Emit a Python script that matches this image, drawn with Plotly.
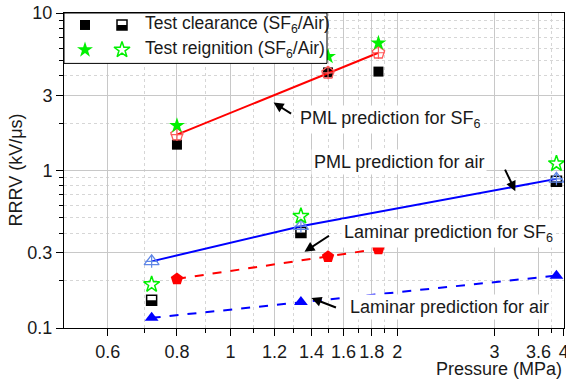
import numpy as np
import plotly.graph_objects as go

# ---------------- data ----------------
SF6_P = [0.8, 1.5, 1.85]
SF6_CLEAR = [1.46, 4.2, 4.25]
SF6_REIG = [1.93, 5.3, 6.45]
SF6_PML = [1.69, 4.17, 5.6]
SF6_LAM = [0.205, 0.283, 0.318]

AIR_P = [0.72, 1.34, 3.88]
AIR_CLEAR = [0.150, 0.404, 0.855]
AIR_REIG = [0.189, 0.513, 1.107]
AIR_PML = [0.265, 0.443, 0.885]
AIR_LAM = [0.116, 0.146, 0.215]

X_TICKS = [0.6, 0.8, 1, 1.2, 1.4, 1.6, 1.8, 2, 3, 3.6, 4]
X_TICKTEXT = ["0.6", "0.8", "1", "1.2", "1.4", "1.6", "1.8", "2", "3", "3.6", "4"]
X_MINOR = [0.7, 0.9, 1.1, 1.3, 1.5, 1.7, 1.9, 3.8]
Y_TICKS = [0.1, 0.3, 1, 3, 10]
Y_TICKTEXT = ["0.1", "0.3", "1", "3", "10"]
Y_MINOR = [0.2, 0.4, 0.5, 0.6, 0.7, 0.8, 0.9, 2, 4, 5, 6, 7, 8, 9]

FONT = "Liberation Sans, Arial, sans-serif"
RED = "#ff0000"
BLUE = "#0000ff"
LRED = "#ff5a5a"
LBLUE = "#5f86e6"
GREEN = "#00f000"
TXT = "#1a1a1a"

fig = go.Figure()


def add(x, y, **kw):
    fig.add_trace(go.Scatter(x=x, y=y, showlegend=False, hoverinfo="skip", **kw))


# laminar predictions (dashed)
add(AIR_P, AIR_LAM, mode="lines+markers",
    line=dict(color=BLUE, width=2, dash="dash"),
    marker=dict(symbol="triangle-up", size=12, color=BLUE))
add(SF6_P, SF6_LAM, mode="lines+markers",
    line=dict(color=RED, width=2, dash="dash"),
    marker=dict(symbol="pentagon", size=13, color=RED))

# test clearance air (half-filled squares)
add(AIR_P, AIR_CLEAR, mode="markers",
    marker=dict(symbol="square-open", size=10, color="black",
                line=dict(color="black", width=1.5)))
add(AIR_P, AIR_CLEAR, mode="markers",
    marker=dict(symbol="line-ew", size=7.1, color="black", angle=0, standoff=2.5,
                line=dict(color="black", width=5)))
# test clearance SF6
add(SF6_P, SF6_CLEAR, mode="markers",
    marker=dict(symbol="square", size=10, color="black"))

# PML predictions
add(AIR_P, AIR_PML, mode="lines+markers",
    line=dict(color=BLUE, width=2),
    marker=dict(symbol="triangle-up-open", size=13, color=LBLUE,
                line=dict(color=LBLUE, width=1.3)))
add(AIR_P, AIR_PML, mode="markers",
    marker=dict(symbol="cross-thin-open", size=9, color=LBLUE,
                line=dict(color=LBLUE, width=1.2)))
add(SF6_P, SF6_PML, mode="lines+markers",
    line=dict(color=RED, width=2),
    marker=dict(symbol="pentagon-open", size=13, color=LRED,
                line=dict(color=LRED, width=1.3)))
add(SF6_P, SF6_PML, mode="markers",
    marker=dict(symbol="cross-thin-open", size=9, color=LRED,
                line=dict(color=LRED, width=1.2)))

# reignition stars
add(AIR_P, AIR_REIG, mode="markers",
    marker=dict(symbol="star-open", size=12, color=GREEN, line=dict(color=GREEN, width=1.5)))
add(SF6_P, SF6_REIG, mode="markers",
    marker=dict(symbol="star", size=12, color=GREEN, line=dict(width=0)))

# ---------------- legend (manual, on overlay axes with 0..1 range) ----------------
LEG_BOX_X = [0, 0.526, 0.526, 0, 0]
LEG_BOX_Y = [1, 1, 0.84, 0.84, 1]
LEG_KX = [0.042, 0.116]
LEG_ROWS = [0.962, 0.883]


def add2(x, y, **kw):
    fig.add_trace(go.Scatter(x=x, y=y, xaxis="x2", yaxis="y2", showlegend=False,
                             hoverinfo="skip", **kw))


add2(LEG_BOX_X, LEG_BOX_Y, mode="lines", fill="toself", fillcolor="white",
     line=dict(color="black", width=1))
add2([LEG_KX[0]], [LEG_ROWS[0]], mode="markers", marker=dict(symbol="square", size=10, color="black"))
add2([LEG_KX[1]], [LEG_ROWS[0]], mode="markers",
     marker=dict(symbol="square-open", size=10, color="black", line=dict(color="black", width=1.5)))
add2([LEG_KX[1]], [LEG_ROWS[0]], mode="markers",
     marker=dict(symbol="line-ew", size=7.1, color="black", angle=0, standoff=2.5,
                 line=dict(color="black", width=5)))
add2([LEG_KX[0]], [LEG_ROWS[1]], mode="markers",
     marker=dict(symbol="star", size=12, color=GREEN, line=dict(width=0)))
add2([LEG_KX[1]], [LEG_ROWS[1]], mode="markers",
     marker=dict(symbol="star-open", size=12, color=GREEN, line=dict(color=GREEN, width=1.5)))

ann = []
for txt, yy in [("Test clearance (SF<sub>6</sub>/Air)", LEG_ROWS[0]),
                ("Test reignition (SF<sub>6</sub>/Air)", LEG_ROWS[1])]:
    ann.append(dict(xref="paper", yref="paper", x=0.158, y=yy, text=txt, showarrow=False,
                    xanchor="left", yanchor="middle", font=dict(size=17.5, color=TXT, family=FONT)))

# ---------------- annotations with arrows ----------------
L10 = np.log10
# arrows: (tip x, tip y in data units, ax, ay in px offsets of the tail)
ARROWS = [(1.196, 2.70, 19, 12), (3.27, 0.74, -11, -23), (1.36, 0.305, 26, -17), (1.40, 0.155, 26, 10)]
for x, y, axp, ayp in ARROWS:
    ann.append(dict(x=L10(x), y=L10(y), xref="x", yref="y", text="", showarrow=True,
                    ax=axp, ay=ayp, arrowhead=2, arrowsize=1, arrowwidth=2, arrowcolor="black"))
LABELS = [("PML prediction for SF<sub>6</sub>", 1.321, 2.12),
          ("PML prediction for air", 1.40, 1.13),
          ("Laminar prediction for SF<sub>6</sub>", 1.585, 0.40),
          ("Laminar prediction for air", 1.62, 0.136)]
for txt, x, y in LABELS:
    ann.append(dict(x=L10(x), y=L10(y), xref="x", yref="y", text=txt, showarrow=False,
                    xanchor="left", yanchor="middle", bgcolor="white", borderpad=2,
                    font=dict(size=18, color=TXT, family=FONT)))

# axis titles
ann.append(dict(xref="paper", yref="paper", x=1, y=0, xanchor="right", yanchor="middle",
                yshift=-41, text="Pressure (MPa)", showarrow=False,
                font=dict(size=18, color=TXT, family=FONT)))
ann.append(dict(xref="paper", yref="paper", x=0, y=0.5, xanchor="center", yanchor="middle",
                xshift=-49, textangle=-90, text="RRRV (kV/μs)", showarrow=False,
                font=dict(size=18, color=TXT, family=FONT)))

axis_common = dict(type="log", showline=True, linecolor="black", linewidth=1, mirror=True,
                   ticks="outside", ticklen=7, tickwidth=1, tickcolor="black",
                   showgrid=True, gridcolor="#c8c8c8", gridwidth=1, zeroline=False,
                   automargin=False, ticklabeloverflow="allow",
                   tickfont=dict(size=18, color=TXT, family=FONT))

fig.update_layout(
    width=566, height=379,
    margin=dict(l=64, r=2, t=13, b=51),
    paper_bgcolor="white", plot_bgcolor="white",
    font=dict(family=FONT),
    xaxis=dict(range=[L10(0.5), L10(4.004)], tickmode="array", tickvals=X_TICKS, ticktext=X_TICKTEXT,
               minor=dict(tickmode="array", tickvals=X_MINOR, ticks="outside", ticklen=4,
                          tickcolor="black", showgrid=True, gridcolor="#d6d6d6", griddash="dot"),
               **axis_common),
    yaxis=dict(range=[-1, 1.0005], tickmode="array", tickvals=Y_TICKS, ticktext=Y_TICKTEXT,
               minor=dict(tickmode="array", tickvals=Y_MINOR, ticks="outside", ticklen=4,
                          tickcolor="black", showgrid=True, gridcolor="#d6d6d6", griddash="dot"),
               **axis_common),
    xaxis2=dict(overlaying="x", range=[0, 1], visible=False),
    yaxis2=dict(overlaying="y", range=[0, 1], visible=False),
    annotations=ann,
)

fig.write_html("out.html", config=dict(displayModeBar=False),
               post_script="document.body.style.margin='0';document.body.style.overflow='hidden';")
